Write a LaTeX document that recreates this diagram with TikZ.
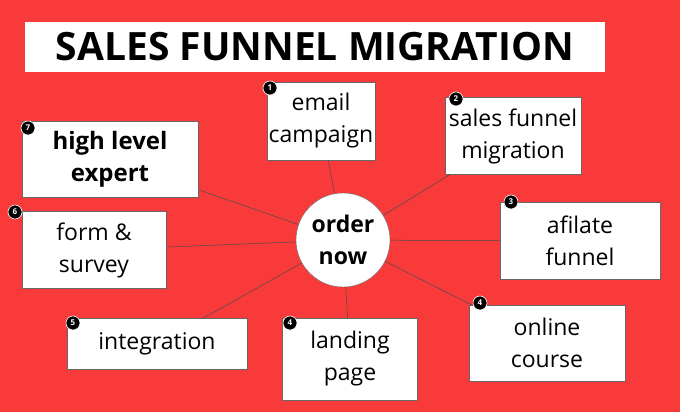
\documentclass[tikz,border=0pt]{standalone}
\usepackage{fontspec}
\setmainfont{Open Sans}
\usetikzlibrary{backgrounds}
\definecolor{bg}{HTML}{F83A3A}
\begin{document}
\begin{tikzpicture}[x=1pt,y=-1pt,
  box/.style={draw=black!60,line width=0.4pt,fill=white,minimum width=#1,inner sep=0pt,align=center,font=\fontsize{23}{32}\selectfont},
  badge/.style={circle,fill=black,draw=white,line width=0.6pt,inner sep=0pt,minimum size=14pt,text=white,font=\fontsize{8}{8}\bfseries\selectfont},
  con/.style={draw=black!70,line width=0.5pt}]
\useasboundingbox (0,0) rectangle (680,412);
\node[fill=white,minimum width=580pt,minimum height=50pt,font=\fontsize{39}{42}\bfseries\selectfont] (title) at (315,47) {SALES FUNNEL MIGRATION};
\node[circle,fill=white,draw=black!60,minimum size=94pt,align=center,font=\fontsize{23}{32}\bfseries\selectfont] (c) at (343,240) {order\\now};
\node[box=108pt,minimum height=78pt] (b1) at (321,121) {email\\campaign};
\node[box=136pt,minimum height=77pt] (b2) at (513,136) {sales funnel\\migration};
\node[box=160pt,minimum height=77pt] (b3) at (580,241) {afilate\\funnel};
\node[box=156pt,minimum height=76pt] (b4) at (547,343) {online\\course};
\node[box=135pt,minimum height=82pt] (b5) at (350,359) {landing\\page};
\node[box=180pt,minimum height=51pt] (b6) at (157,344) {integration};
\node[box=144pt,minimum height=77pt] (b7) at (94,250) {form \&\\survey};
\node[box=176pt,minimum height=76pt,font=\fontsize{24}{32}\bfseries\selectfont] (b8) at (110,159) {high level\\expert};
\begin{scope}[on background layer]
\fill[bg] (0,0) rectangle (680,412);
\foreach \b in {b1,b2,b3,b4,b5,b6,b7,b8} \draw[con] (c.center) -- (\b.center);
\end{scope}
\node[badge] at (270,88) {1};
\node[badge] at (456,99) {2};
\node[badge] at (511,202) {3};
\node[badge] at (480,303) {4};
\node[badge] at (290,323) {4};
\node[badge] at (73,323) {5};
\node[badge] at (15,212) {6};
\node[badge] at (28,128) {7};
\end{tikzpicture}
\end{document}
